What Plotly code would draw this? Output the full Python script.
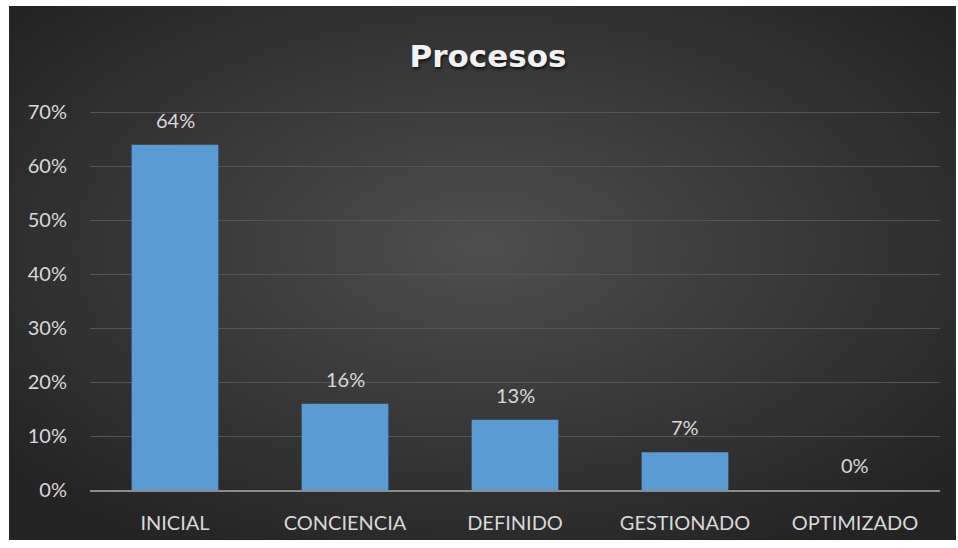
import plotly.graph_objects as go
import base64

categories = ["INICIAL", "CONCIENCIA", "DEFINIDO", "GESTIONADO", "OPTIMIZADO"]
values = [0.64, 0.16, 0.13, 0.07, 0.0]
labels = ["64%", "16%", "13%", "7%", "0%"]
tick_vals = [0, 0.1, 0.2, 0.3, 0.4, 0.5, 0.6, 0.7]
tick_text = ["0%", "10%", "20%", "30%", "40%", "50%", "60%", "70%"]

svg = """<svg xmlns='http://www.w3.org/2000/svg' width='946' height='534' viewBox='0 0 946 534' preserveAspectRatio='none'>
<defs><radialGradient id='g' cx='50%' cy='45%' r='65%'>
<stop offset='0%' stop-color='#4e4e4e'/><stop offset='100%' stop-color='#242424'/>
</radialGradient></defs><rect width='946' height='534' fill='url(#g)'/></svg>"""
bg_uri = "data:image/svg+xml;base64," + base64.b64encode(svg.encode()).decode()

W, H = 958, 548
L, R, T, B = 90, 18, 111, 58
pw, ph = W - L - R, H - T - B

fig = go.Figure()
fig.add_trace(go.Bar(
    x=categories, y=values,
    marker=dict(color="#5b9bd5", line=dict(width=0)),
    hoverinfo="skip",
))
for c, v, t in zip(categories, values, labels):
    fig.add_annotation(x=c, y=v, text=t, showarrow=False, yanchor="bottom",
                       yshift=11, font=dict(family="Lato", size=20, color="#d9d9d9"))

# background panel in paper coords
bx0, bx1, by0, by1 = 9, 956, 6, 540
fig.add_layout_image(
    source=bg_uri, xref="paper", yref="paper",
    x=(bx0 - L) / pw, y=(H - B - by0) / ph,
    sizex=(bx1 - bx0) / pw, sizey=(by1 - by0) / ph,
    xanchor="left", yanchor="top", sizing="stretch", layer="below",
)

fig.update_layout(
    width=W, height=H,
    margin=dict(l=L, r=R, t=T, b=B),
    paper_bgcolor="white", plot_bgcolor="rgba(0,0,0,0)",
    bargap=0.49, showlegend=False,
    title=dict(text="<b>Procesos</b>", x=488 / W, xref="container", xanchor="center",
               y=1 - 56 / H, yref="container", yanchor="middle",
               font=dict(family="DejaVu Sans", size=31, color="#f2f2f2",
                         shadow="1px 2px 3px rgba(0,0,0,0.7)")),
    xaxis=dict(showgrid=False, showline=True, linecolor="#8c8c8c", linewidth=2,
               tickfont=dict(family="Lato", size=20, color="#d9d9d9"),
               ticks="", ticklabelstandoff=14, fixedrange=True),
    yaxis=dict(range=[0, 0.7025], tickvals=tick_vals, ticktext=tick_text,
               showgrid=True, gridcolor="#555555", gridwidth=1,
               zeroline=False, showline=False,
               tickfont=dict(family="Lato", size=20, color="#d9d9d9"),
               ticks="", ticklabelstandoff=22, fixedrange=True),
)

fig.write_html("out.html", config={"displayModeBar": False})
